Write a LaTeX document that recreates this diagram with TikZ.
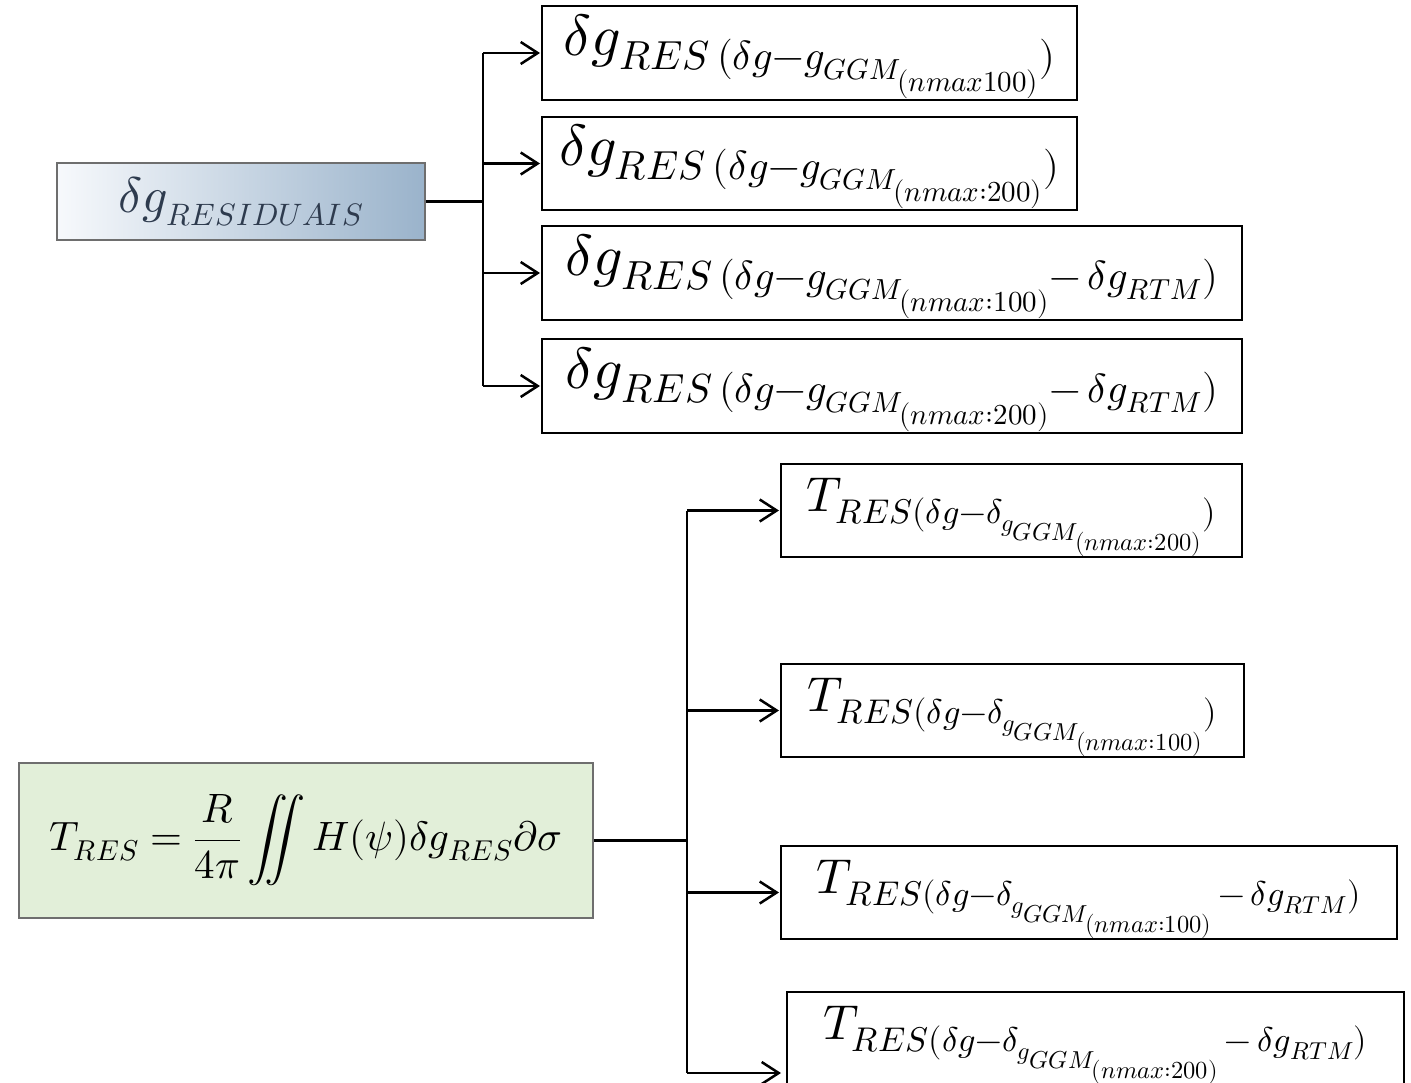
\documentclass[tikz,border=0pt]{standalone}
\usepackage{unicode-math}
\setmathfont{Latin Modern Math}
\usetikzlibrary{arrows.meta}
\DeclareMathSizes{50}{50}{31}{25}

\definecolor{steelblue}{HTML}{9AB3CB}
\definecolor{paleblue}{HTML}{F7F9FC}
\definecolor{slatetext}{HTML}{2E3B4E}
\definecolor{palegreen}{HTML}{E2EFD9}
\definecolor{frame}{HTML}{6E6E6E}

% formula drawn slightly lower, keeping its box dimensions
\newcommand{\lowformula}[2][7pt]{\raisebox{-#1}[\height][\depth]{$#2$}}

\tikzset{
  whitebox/.style={draw=black, line width=2pt, fill=white, inner sep=0pt,
    font=\fontsize{58}{64}\selectfont},
  tbox/.style={draw=black, line width=2pt, fill=white, inner sep=0pt,
    font=\fontsize{49}{56}\selectfont},
  conn/.style={draw=black, line width=2.6pt},
  arr/.style={conn, -{Straight Barb[length=17pt,width=22pt,line width=2.5pt]}},
}

\begin{document}
\begin{tikzpicture}[x=1pt,y=-1pt]
\path[use as bounding box] (0,0) rectangle (1411,1083);

% --- residual gravity anomalies ---
\node[draw=frame, line width=1.5pt, left color=paleblue, right color=steelblue,
      minimum width=368pt, minimum height=77pt, inner sep=0pt,
      text=slatetext, font=\fontsize{50}{56}\selectfont]
  (res) at (241,201.5) {$\delta g_{RESIDUAIS}$};

\node[whitebox, minimum width=535pt, minimum height=94pt] (r1) at (809.5,53)
  {\lowformula[3pt]{\delta g_{RES\,(\delta g-g_{GGM_{(nmax100)}})}}};
\node[whitebox, minimum width=535pt, minimum height=93pt] (r2) at (809.5,163.5)
  {\lowformula[3pt]{\delta g_{RES\,(\delta g-g_{GGM_{(nmax{:}200)}})}}};
\node[whitebox, minimum width=700pt, minimum height=94pt] (r3) at (892,273)
  {\lowformula[3pt]{\delta g_{RES\,(\delta g-g_{GGM_{(nmax{:}100)}}-\,\delta g_{RTM})}}};
\node[whitebox, minimum width=700pt, minimum height=94pt] (r4) at (892,386)
  {\lowformula[3pt]{\delta g_{RES\,(\delta g-g_{GGM_{(nmax{:}200)}}-\,\delta g_{RTM})}}};

\coordinate (bt) at (483,201.5);
\draw[conn] (res.east) -- (bt);
\draw[conn] (bt |- r1.west) -- (bt |- r4.west);
\draw[arr] (bt |- r1.west) -- ([xshift=-1pt]r1.west);
\draw[arr] (bt |- r2.west) -- ([xshift=-1pt]r2.west);
\draw[arr] (bt |- r3.west) -- ([xshift=-1pt]r3.west);
\draw[arr] (bt |- r4.west) -- ([xshift=-1pt]r4.west);

% --- residual disturbing potential ---
\node[draw=frame, line width=1.5pt, fill=palegreen,
      minimum width=574pt, minimum height=155pt, inner sep=0pt,
      font=\fontsize{41}{47}\selectfont]
  (tres) at (306,840.5)
  {$\displaystyle T_{RES}=\frac{R}{4\pi}\iint H(\psi)\delta g_{RES}\partial\sigma$};

\node[tbox, minimum width=461pt, minimum height=93pt] (s1) at (1011.5,510.5)
  {\lowformula{T_{RES(\delta g-\delta_{g_{GGM_{(nmax{:}200)}}})}}};
\node[tbox, minimum width=463pt, minimum height=93pt] (s2) at (1012.5,710.5)
  {\lowformula{T_{RES(\delta g-\delta_{g_{GGM_{(nmax{:}100)}}})}}};
\node[tbox, minimum width=616pt, minimum height=93pt] (s3) at (1089,892.5)
  {\lowformula{T_{RES(\delta g-\delta_{g_{GGM_{(nmax{:}100)}}}\,-\,\delta g_{RTM})}}};
\node[tbox, minimum width=617pt, minimum height=93pt, anchor=north west] (s4) at (786,991)
  {\lowformula{T_{RES(\delta g-\delta_{g_{GGM_{(nmax{:}200)}}}\,-\,\delta g_{RTM})}}};

\coordinate (bb) at (687,840.5);
\coordinate (e4) at (781,1073);
\draw[conn] (tres.east) -- (bb);
\draw[conn] (bb |- s1.west) -- (bb |- e4);
\draw[arr] (bb |- s1.west) -- ([xshift=-1pt]s1.west);
\draw[arr] (bb |- s2.west) -- ([xshift=-1pt]s2.west);
\draw[arr] (bb |- s3.west) -- ([xshift=-1pt]s3.west);
\draw[arr] (bb |- e4) -- (e4);
\end{tikzpicture}
\end{document}
